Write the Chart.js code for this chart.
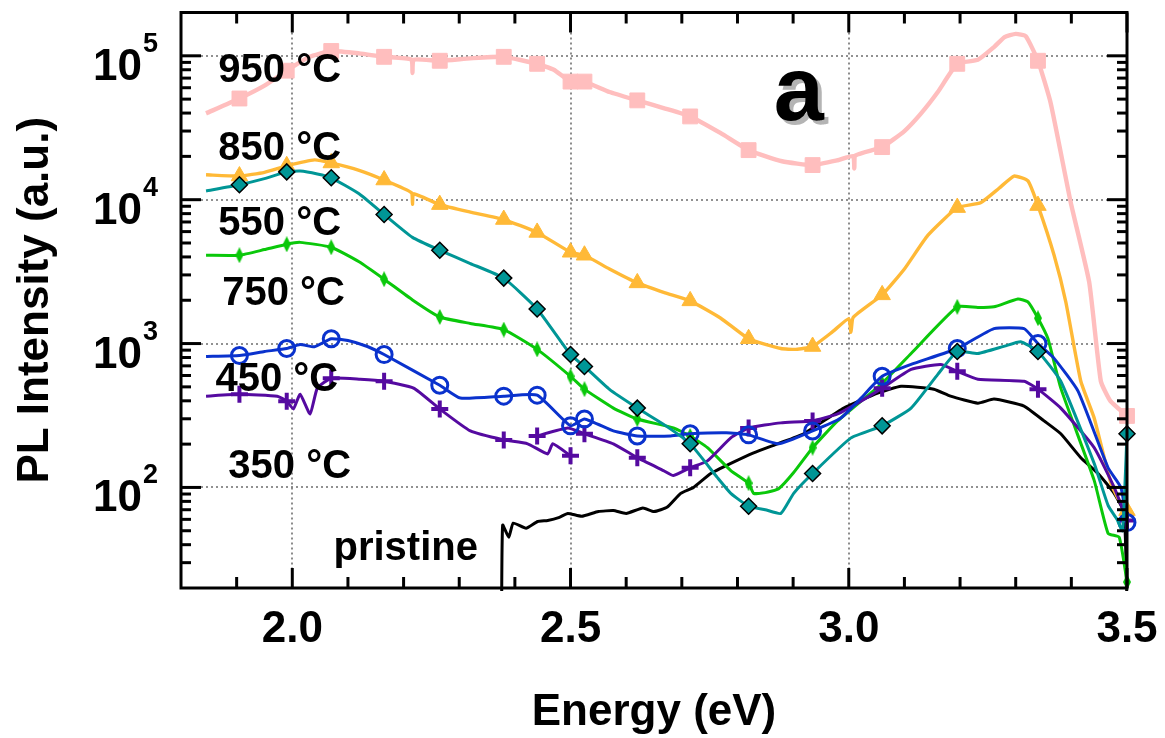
<!DOCTYPE html>
<html>
<head>
<meta charset="utf-8">
<script src="https://cdn.jsdelivr.net/npm/chart.js@4.4.0/dist/chart.umd.min.js"></script>
<style>
  html, body { margin: 0; padding: 0; background: #fff; }
  #wrap { width: 1165px; height: 738px; }
</style>
</head>
<body>
<div id="wrap"><canvas id="pl"></canvas></div>
<script>
// Energies (eV) where a marker symbol is drawn on each spectrum
const markerEnergy = [1.905, 1.99, 2.07, 2.165, 2.265, 2.38, 2.44, 2.5, 2.525, 2.62, 2.715, 2.82, 2.935, 3.06, 3.195, 3.34, 3.5];

// [energy (eV), PL intensity (a.u.)]
const pl950 = [[1.845, 39800], [1.905, 50500], [1.95, 62000], [1.99, 78800], [2.03, 98000], [2.07, 108000], [2.12, 104000],
  [2.165, 98400], [2.214, 94000], [2.216, 76000], [2.218, 94000], [2.265, 92400], [2.32, 96000], [2.38, 98400], [2.44, 88000],
  [2.47, 80000], [2.5, 66200], [2.525, 66200], [2.57, 56000], [2.62, 49000], [2.67, 43000], [2.715, 37900], [2.77, 29000],
  [2.82, 22100], [2.88, 18500], [2.935, 17400], [2.98, 18800], [3.008, 20100], [3.01, 16500], [3.012, 20300], [3.06, 23200],
  [3.10, 30000], [3.13, 39800], [3.16, 56000], [3.195, 88000], [3.232, 93800], [3.261, 115000], [3.28, 135000], [3.3, 142000],
  [3.318, 137000], [3.34, 92400], [3.363, 46700], [3.399, 9530], [3.432, 2680], [3.453, 547], [3.47, 400], [3.5, 314]];

const pl850 = [[1.845, 14900], [1.905, 14600], [1.95, 15500], [1.99, 17200], [2.04, 18900], [2.07, 18000], [2.12, 16000],
  [2.165, 13700], [2.214, 11200], [2.216, 9300], [2.218, 11000], [2.265, 9240], [2.32, 8200], [2.38, 7280], [2.44, 5920],
  [2.5, 4310], [2.525, 4110], [2.57, 3300], [2.62, 2640], [2.67, 2250], [2.715, 1980], [2.77, 1500], [2.82, 1080], [2.878, 924],
  [2.905, 911], [2.935, 954], [2.97, 1200], [3.0, 1490], [3.004, 1200], [3.008, 1520], [3.06, 2180], [3.10, 3300], [3.142, 5650],
  [3.195, 8810], [3.237, 9530], [3.27, 12000], [3.297, 14600], [3.322, 13500], [3.34, 9100], [3.369, 4110], [3.39, 1950],
  [3.417, 547], [3.441, 304], [3.471, 107], [3.486, 81], [3.5, 69]];

const pl550 = [[1.845, 11500], [1.905, 12700], [1.95, 14000], [1.99, 15600], [2.014, 15800], [2.045, 15100], [2.07, 14200],
  [2.12, 11000], [2.165, 7890], [2.216, 5470], [2.265, 4450], [2.32, 3600], [2.38, 2850], [2.44, 1740], [2.5, 839], [2.525, 693],
  [2.57, 480], [2.62, 356], [2.67, 270], [2.715, 201], [2.764, 117], [2.788, 91], [2.82, 74], [2.85, 70], [2.878, 66],
  [2.901, 91], [2.935, 125], [3.004, 221], [3.06, 268], [3.112, 356], [3.16, 611], [3.195, 881], [3.232, 853], [3.28, 960],
  [3.309, 1030], [3.34, 881], [3.381, 547], [3.441, 147], [3.466, 75], [3.482, 60], [3.492, 50], [3.5, 236]];

const pl750 = [[1.845, 4110], [1.905, 4110], [1.95, 4500], [1.99, 4900], [2.014, 5050], [2.07, 4670], [2.12, 3700],
  [2.165, 2800], [2.216, 2010], [2.265, 1530], [2.32, 1380], [2.38, 1250], [2.44, 911], [2.5, 592], [2.525, 482], [2.577, 356],
  [2.62, 299], [2.685, 259], [2.715, 228], [2.746, 189], [2.788, 131], [2.82, 107], [2.829, 91], [2.85, 92], [2.874, 98],
  [2.901, 127], [2.935, 189], [2.98, 290], [3.06, 530], [3.112, 853], [3.195, 1800], [3.232, 1780], [3.261, 1800],
  [3.304, 2040], [3.322, 1950], [3.34, 1500], [3.358, 1080], [3.381, 490], [3.441, 112], [3.466, 48], [3.486, 45], [3.5, 22]];

const pl450 = [[1.845, 813], [1.905, 826], [1.95, 880], [1.99, 924], [2.014, 984], [2.04, 950], [2.07, 1080], [2.10, 1050],
  [2.135, 954], [2.165, 839], [2.265, 513], [2.302, 418], [2.38, 431], [2.44, 438], [2.5, 268], [2.525, 299], [2.577, 247],
  [2.62, 228], [2.68, 228], [2.715, 236], [2.78, 240], [2.82, 232], [2.874, 201], [2.935, 247], [2.986, 304], [3.022, 418],
  [3.06, 592], [3.112, 716], [3.195, 924], [3.261, 1270], [3.315, 1270], [3.34, 1000], [3.369, 789], [3.412, 467],
  [3.466, 137], [3.489, 100], [3.5, 57]];

// two overlapping spectrometer ranges, split by a null
const pl350 = [[1.845, 431], [1.905, 444], [1.973, 431], [1.99, 398], [2.002, 351], [2.014, 444], [2.032, 324], [2.045, 490],
  [2.07, 574], [2.122, 565], [2.165, 547], [2.218, 490], [2.265, 351], [2.32, 247], [2.38, 214], [2.423, 201], [2.459, 171],
  [2.468, 201], [2.5, 166], [2.5, null],
  [2.44, 228], [2.495, 259], [2.525, 236], [2.577, 201], [2.62, 161], [2.667, 131], [2.685, 121], [2.715, 137], [2.746, 153],
  [2.788, 221], [2.82, 259], [2.878, 281], [2.935, 290], [2.98, 324], [3.022, 398], [3.06, 490], [3.112, 662], [3.165, 716],
  [3.195, 641], [3.232, 565], [3.315, 547], [3.34, 482], [3.381, 356], [3.441, 189], [3.477, 100], [3.5, 59]];

const plPristine = [[2.376, 10], [2.378, 54.7], [2.389, 45], [2.397, 56.5], [2.42, 52], [2.441, 58], [2.459, 59], [2.48, 62],
  [2.495, 66], [2.52, 63], [2.55, 68], [2.577, 69], [2.6, 66], [2.63, 72], [2.65, 68], [2.674, 73], [2.698, 91], [2.721, 100],
  [2.752, 125], [2.788, 147], [2.829, 174], [2.872, 201], [2.919, 236], [2.991, 356], [3.052, 452], [3.094, 505], [3.153, 482],
  [3.183, 431], [3.232, 385], [3.261, 411], [3.315, 368], [3.351, 290], [3.381, 236], [3.417, 161], [3.448, 125], [3.477, 91],
  [3.495, 66], [3.501, 10]];

// axis ticks
const xMajorTicks = [2.0, 2.5, 3.0, 3.5];
const xMinorTicks = [1.9, 2.1, 2.2, 2.3, 2.4, 2.6, 2.7, 2.8, 2.9, 3.1, 3.2, 3.3, 3.4];
const xGridValues = [2.0, 2.5, 3.0];
const yDecadeExp = [2, 3, 4, 5];

// curve labels, anchored in data coordinates (left edge, baseline)
const curveLabels = [
  { text: '950 °C', e: 1.867, i: 66200 },
  { text: '850 °C', e: 1.867, i: 18900 },
  { text: '550 °C', e: 1.867, i: 5650 },
  { text: '750 °C', e: 1.874, i: 1860 },
  { text: '450 °C', e: 1.862, i: 467 },
  { text: '350 °C', e: 1.885, i: 117 },
  { text: 'pristine', e: 2.074, i: 31.4 }
];
const panelLetter = { text: 'a', e: 2.865, i: 35600 };

const FONT = '"Liberation Sans", Arial, sans-serif';

const toXY = arr => arr.map(p => ({ x: p[0], y: p[1] }));
const isMark = c => c.raw && markerEnergy.includes(c.raw.x);

function thinDiamond(w, h, color) {
  const c = document.createElement('canvas');
  c.width = w; c.height = h;
  const g = c.getContext('2d');
  g.fillStyle = color;
  g.beginPath();
  g.moveTo(w / 2, 0); g.lineTo(w, h / 2); g.lineTo(w / 2, h); g.lineTo(0, h / 2);
  g.closePath(); g.fill();
  return c;
}

function series(label, data, color, width, style, radius, extra) {
  return Object.assign({
    label: label,
    data: toXY(data),
    borderColor: color,
    backgroundColor: color,
    borderWidth: width,
    pointStyle: style,
    pointRadius: c => isMark(c) ? radius : 0,
    pointBackgroundColor: color,
    pointBorderColor: color,
    pointBorderWidth: 1,
    tension: 0.15,
    spanGaps: false,
    fill: false,
    // let the end markers at 3.5 eV stick out past the right frame
    clip: { left: 0, top: 0, right: 14, bottom: 3 }
  }, extra || {});
}

const datasets = [
  series('550 °C', pl550, 'rgb(0,150,150)', 3, 'rectRot', 8, { pointBorderColor: '#000', pointBorderWidth: 1.5 }),
  series('450 °C', pl450, 'rgb(10,50,205)', 3, 'circle', 8, { pointBackgroundColor: 'rgba(0,0,0,0)', pointBorderWidth: 3 }),
  series('350 °C', pl350, 'rgb(85,10,160)', 3, 'cross', 8.5, { pointBorderWidth: 4 }),
  series('750 °C', pl750, 'rgb(10,200,10)', 3, thinDiamond(8, 16, 'rgb(10,200,10)'), 5),
  series('850 °C', pl850, 'rgb(255,185,55)', 3.4, 'triangle', 9.5),
  series('950 °C', pl950, 'rgb(255,190,190)', 4.4, 'rect', 10.5),
  series('pristine', plPristine, '#000', 3, 'circle', 0)
];

const axesPlugin = {
  id: 'axesPlugin',
  beforeDatasetsDraw(chart) {
    const { ctx, chartArea: a, scales: { x, y } } = chart;
    ctx.save();
    ctx.strokeStyle = '#6e6e6e';
    ctx.lineWidth = 1.6;
    ctx.setLineDash([2, 3]);
    xGridValues.forEach(v => {
      const px = Math.round(x.getPixelForValue(v));
      ctx.beginPath(); ctx.moveTo(px, a.top); ctx.lineTo(px, a.bottom); ctx.stroke();
    });
    yDecadeExp.forEach(n => {
      const py = Math.round(y.getPixelForValue(Math.pow(10, n)));
      ctx.beginPath(); ctx.moveTo(a.left, py); ctx.lineTo(a.right, py); ctx.stroke();
    });
    ctx.restore();
  },
  afterDatasetsDraw(chart) {
    const { ctx, chartArea: a, scales: { x, y } } = chart;
    ctx.save();

    // frame
    ctx.strokeStyle = '#000';
    ctx.lineWidth = 3;
    ctx.strokeRect(a.left, a.top, a.right - a.left, a.bottom - a.top);

    // inward ticks, all four sides
    const tick = (x1, y1, x2, y2) => { ctx.beginPath(); ctx.moveTo(x1, y1); ctx.lineTo(x2, y2); ctx.stroke(); };
    ctx.lineWidth = 3;
    xMajorTicks.forEach(v => {
      const px = x.getPixelForValue(v);
      tick(px, a.bottom, px, a.bottom - 20);
      tick(px, a.top, px, a.top + 20);
    });
    xMinorTicks.forEach(v => {
      const px = x.getPixelForValue(v);
      tick(px, a.bottom, px, a.bottom - 11);
      tick(px, a.top, px, a.top + 11);
    });
    yDecadeExp.forEach(n => {
      const py = y.getPixelForValue(Math.pow(10, n));
      tick(a.left, py, a.left + 20, py);
      tick(a.right, py, a.right - 20, py);
    });
    for (let n = 1; n <= 5; n++) {
      for (let m = 2; m <= 9; m++) {
        const v = m * Math.pow(10, n);
        if (v <= y.min || v >= y.max) continue;
        const py = y.getPixelForValue(v);
        tick(a.left, py, a.left + 10, py);
        tick(a.right, py, a.right - 10, py);
      }
    }

    ctx.fillStyle = '#000';

    // x tick labels
    ctx.font = 'bold 44px ' + FONT;
    ctx.textAlign = 'center';
    ctx.textBaseline = 'alphabetic';
    xMajorTicks.forEach(v => ctx.fillText(v.toFixed(1), x.getPixelForValue(v), a.bottom + 54));

    // y tick labels: 10 with a raised exponent
    yDecadeExp.forEach(n => {
      const py = y.getPixelForValue(Math.pow(10, n));
      ctx.font = 'bold 44px ' + FONT;
      ctx.textAlign = 'right';
      ctx.fillText('10', 142, py + 24);
      ctx.font = 'bold 27px ' + FONT;
      ctx.textAlign = 'left';
      ctx.fillText(String(n), 143, py - 4);
    });

    // axis titles
    ctx.font = 'bold 44px ' + FONT;
    ctx.textAlign = 'center';
    ctx.fillText('Energy (eV)', (a.left + a.right) / 2, 725);
    ctx.save();
    ctx.translate(48, (a.top + a.bottom) / 2);
    ctx.rotate(-Math.PI / 2);
    ctx.fillText('PL Intensity (a.u.)', 0, 0);
    ctx.restore();

    // curve labels
    ctx.font = 'bold 40px ' + FONT;
    ctx.textAlign = 'left';
    curveLabels.forEach(l => ctx.fillText(l.text, x.getPixelForValue(l.e), y.getPixelForValue(l.i)));

    // panel letter with grey shadow
    const lx = x.getPixelForValue(panelLetter.e);
    const ly = y.getPixelForValue(panelLetter.i);
    ctx.font = 'bold 90px ' + FONT;
    ctx.fillStyle = '#b4b4b4';
    ctx.fillText(panelLetter.text, lx + 4, ly + 4);
    ctx.fillStyle = '#000';
    ctx.fillText(panelLetter.text, lx, ly);

    ctx.restore();
  }
};

new Chart(document.getElementById('pl'), {
  type: 'line',
  data: { datasets: datasets },
  options: {
    responsive: true,
    maintainAspectRatio: false,
    animation: false,
    events: [],
    layout: { padding: { top: 8, right: 38, left: 0, bottom: 0 } },
    plugins: { legend: { display: false }, tooltip: { enabled: false } },
    scales: {
      x: {
        type: 'linear',
        min: 1.8,
        max: 3.5,
        ticks: { display: false },
        grid: { display: false },
        border: { display: false },
        afterFit: s => { s.height = 150; }
      },
      y: {
        type: 'logarithmic',
        min: 20,
        max: 200000,
        ticks: { display: false },
        grid: { display: false },
        border: { display: false },
        afterFit: s => { s.width = 181; }
      }
    }
  },
  plugins: [axesPlugin]
});
</script>
</body>
</html>
